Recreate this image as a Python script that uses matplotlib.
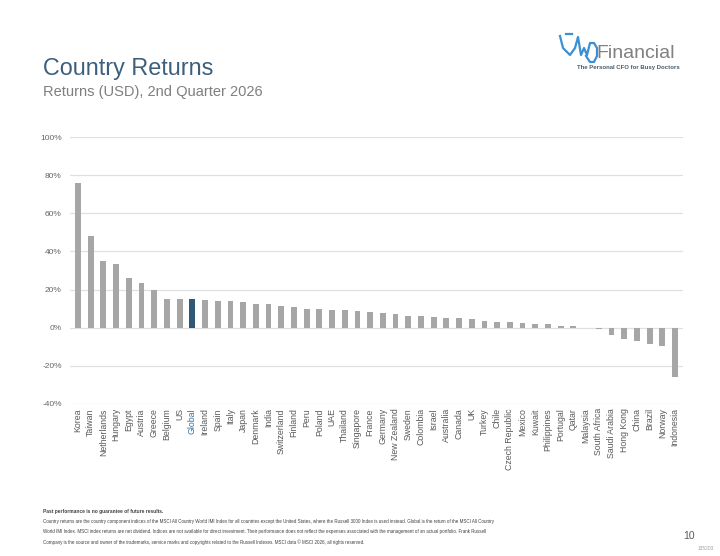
import matplotlib
matplotlib.use("Agg")
import matplotlib.pyplot as plt
import numpy as np

plt.rcParams['font.family'] = ['Liberation Sans', 'DejaVu Sans']

countries = ['Korea', 'Taiwan', 'Netherlands', 'Hungary', 'Egypt', 'Austria', 'Greece', 'Belgium', 'US',
             'Global', 'Ireland', 'Spain', 'Italy', 'Japan', 'Denmark', 'India', 'Switzerland', 'Finland',
             'Peru', 'Poland', 'UAE', 'Thailand', 'Singapore', 'France', 'Germany', 'New Zealand', 'Sweden',
             'Colombia', 'Israel', 'Australia', 'Canada', 'UK', 'Turkey', 'Chile', 'Czech Republic', 'Mexico',
             'Kuwait', 'Philippines', 'Portugal', 'Qatar', 'Malaysia', 'South Africa', 'Saudi Arabia',
             'Hong Kong', 'China', 'Brazil', 'Norway', 'Indonesia']
returns = [76.0, 48.0, 35.0, 33.5, 26.0, 23.7, 20.0, 15.2, 15.2,
           14.8, 14.6, 14.1, 14.0, 13.5, 12.6, 12.5, 11.5, 11.0,
           9.9, 9.6, 9.2, 9.1, 8.7, 8.4, 7.7, 7.2, 6.3,
           6.1, 5.7, 5.2, 5.1, 4.6, 3.5, 3.1, 3.0, 2.5,
           2.1, 1.9, 0.8, 0.8, 0.1, -0.6, -3.7,
           -5.8, -6.8, -8.5, -9.5, -25.6]
highlight = 'Global'
yticks = [-40, -20, 0, 20, 40, 60, 80, 100]

bar_grey = '#a6a6a6'
bar_blue = '#2e5878'
title_blue = '#3d5f7b'

fig = plt.figure(figsize=(7.2, 5.56), dpi=100)
ax = fig.add_axes([70 / 720, 1 - 404 / 556, 613 / 720, 267 / 556])

colors = [bar_blue if c == highlight else bar_grey for c in countries]
x = np.arange(len(countries))
ax.bar(x, returns, width=0.46, color=colors, zorder=3)

ax.set_xlim(-0.63, len(countries) - 0.37)
ax.set_ylim(-40, 100)
ax.set_yticks(yticks)
ax.set_yticklabels([f'{v}%' for v in yticks], fontsize=6, color='#666666')
ax.yaxis.grid(True, color='#e0e0e0', linewidth=0.9, zorder=0)
ax.set_xticks(x)
ax.set_xticklabels(countries, rotation=90, fontsize=6.3, color='#595959')
for lbl in ax.get_xticklabels():
    if lbl.get_text() == highlight:
        lbl.set_color('#3d6f99')
ax.tick_params(axis='both', length=0, pad=3)
ax.tick_params(axis='y', pad=6)
for s in ax.spines.values():
    s.set_visible(False)

# titles
fig.text(43 / 720, 1 - 69 / 556, 'Country Returns', fontsize=16.8, color=title_blue, va='center')
fig.text(43 / 720, 1 - 92 / 556, 'Returns (USD), 2nd Quarter 2026', fontsize=10.5, color='#7f7f7f', va='center')

# logo
fig.text(596 / 720, 1 - 53 / 556, 'Financial', fontsize=14, color='#808080', va='center')
fig.text(680 / 720, 1 - 67 / 556, 'The Personal CFO for Busy Doctors', fontsize=4.3, color='#4b5b6b',
         fontweight='bold', ha='right', va='center')
logo_x = np.array([560, 563, 570, 575, 578, 581, 584, 587, 590, 594, 597, 597, 594, 590, 586]) / 720
logo_y = 1 - np.array([36, 48, 55, 48, 37, 55, 48, 55, 43, 43, 48, 56, 62, 62, 56]) / 556
fig.add_artist(plt.Line2D(logo_x, logo_y, color='#3b8fd3', linewidth=1.6))
fig.add_artist(plt.Line2D(np.array([566, 572]) / 720, 1 - np.array([34, 34]) / 556, color='#3b8fd3', linewidth=1.6))

# footnotes
fig.text(43 / 720, 1 - 511 / 556, 'Past performance is no guarantee of future results.', fontsize=3.5,
         fontweight='bold', color='#404040', va='center')
notes = [
    'Country returns are the country component indices of the MSCI All Country World IMI Index for all countries except the United States, where the Russell 3000 Index is used instead. Global is the return of the MSCI All Country',
    'World IMI Index. MSCI index returns are net dividend. Indices are not available for direct investment. Their performance does not reflect the expenses associated with the management of an actual portfolio. Frank Russell',
    'Company is the source and owner of the trademarks, service marks and copyrights related to the Russell Indexes. MSCI data \u00a9 MSCI 2026, all rights reserved.',
]
for i, line in enumerate(notes):
    fig.text(43 / 720, 1 - (521 + i * 10.5) / 556, line, fontsize=3.25, color='#404040', va='center')

fig.text(695 / 720, 1 - 536 / 556, '10', fontsize=7.5, color='#595959', ha='right', va='center')
fig.text(714 / 720, 1 - 549 / 556, '135203', fontsize=3.5, color='#a0a0a0', ha='right', va='center')

fig.savefig('out.png', dpi=100)
